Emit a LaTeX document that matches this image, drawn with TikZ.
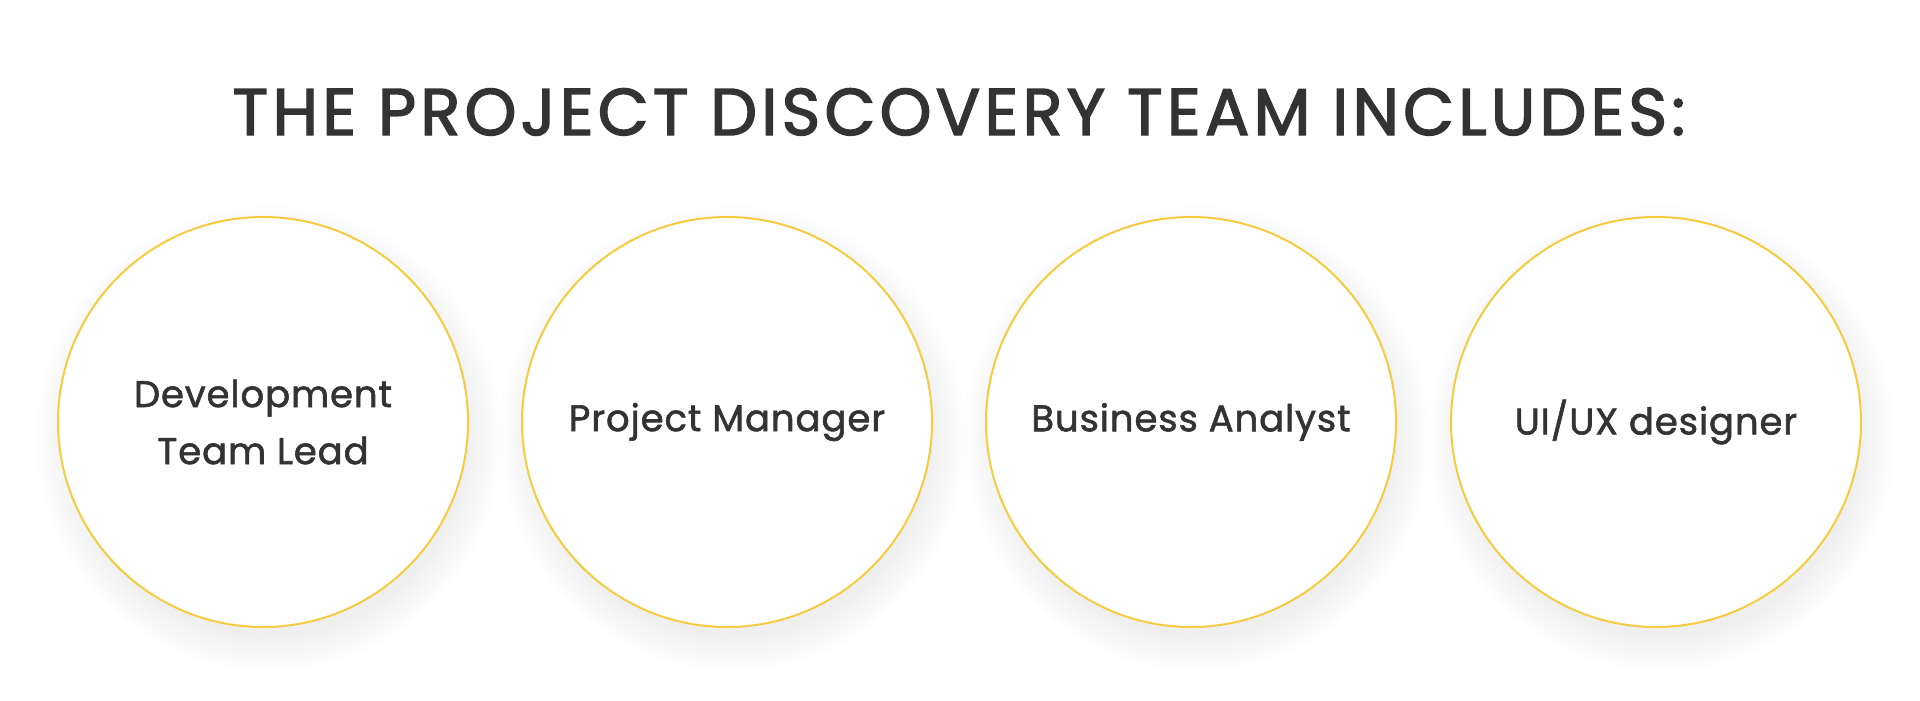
\documentclass[tikz,border=0pt]{standalone}
\usepackage{fontspec}
\setmainfont{Poppins}[FakeBold=1.6, LetterSpace=2.5]
\newfontfamily\titlefont{Poppins}[FakeBold=2.2, LetterSpace=6.3]
\usetikzlibrary{positioning}
\definecolor{mainBlack}{HTML}{333333}
\definecolor{ringYellow}{HTML}{F5CC40}

\tikzset{
    member/.style={circle, draw=ringYellow, line width=2pt, fill=white,
        minimum size=410pt, inner sep=0pt, align=center, text=mainBlack,
        font=\fontsize{37}{57}\selectfont},
}

\begin{document}
\begin{tikzpicture}[x=1pt, y=-1pt]
    \useasboundingbox[fill=white] (0,0) rectangle (1920,701);
    \coordinate (A) at (263,422);
    \coordinate (B) at (727,422);
    \coordinate (C) at (1191,422);
    \coordinate (D) at (1656,422);

    % soft shadow under each circle
    \foreach \p in {A,B,C,D} {
        \foreach \k in {1,...,16}
            \fill[black, opacity=0.005] ([shift={(6,16)}]\p) circle (196+2.4*\k);
    }

    \node[font=\titlefont\fontsize{66}{70}\selectfont, text=mainBlack, anchor=base] (title) at (959,135) {THE PROJECT DISCOVERY TEAM INCLUDES:};

    \node[member] (lead) at (A) {Development\\Team Lead};
    \node[member] (pm) at (B) {Project Manager};
    \node[member] (ba) at (C) {Business Analyst};
    \node[member] (ux) at (D) {UI/UX designer};
\end{tikzpicture}
\end{document}
